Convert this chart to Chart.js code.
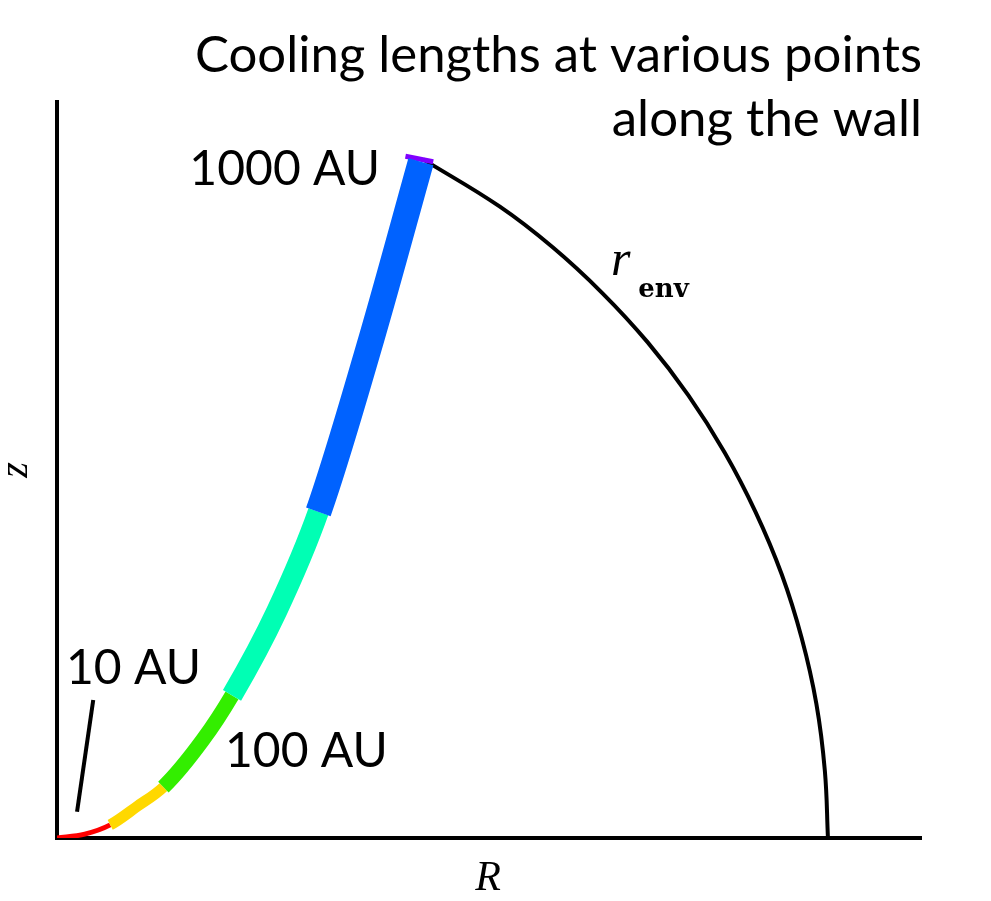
<!DOCTYPE html>
<html lang="en">
<head>
    <meta charset="UTF-8">
    <title>Cooling lengths along the wall</title>
    <script src="https://cdn.jsdelivr.net/npm/chart.js"></script>
    <style>
        body { margin: 0; background: #fff; }
        canvas { display: block; }
    </style>
</head>
<body>
    <canvas id="wallChart" width="991" height="901"></canvas>
    <script type="text/javascript">
        // R and z in units of r_env
        // wall points, one smooth curve
        var wallR = [0, 0.036, 0.069, 0.104, 0.138, 0.189, 0.227, 0.285, 0.339, 0.408, 0.472];
        var wallZ = [0, 0.005, 0.017, 0.041, 0.066, 0.127, 0.185, 0.294, 0.423, 0.648, 0.877];
        // colour band of each piece between two wall points
        var wallBand = [0, 0, 1, 1, 2, 2, 3, 3, 4, 4];
        var bandColors = ['#ff0000', '#ffd800', '#33ee00', '#00ffb4', '#0062ff'];
        var bandWidths = [5, 11, 15, 21, 26];

        // small cap at the top of the wall
        var wallCap = [[0.452, 0.884], [0.488, 0.877]];

        // envelope edge r_env
        var envR = [0.475, 0.574, 0.643, 0.707, 0.766, 0.819, 0.866, 0.906, 0.940, 0.966, 0.985, 0.996, 1.000];
        var envZ = [0.880, 0.819, 0.766, 0.707, 0.643, 0.574, 0.500, 0.423, 0.342, 0.259, 0.174, 0.087, 0.000];

        // pointer for the 10 AU label
        var pointer10 = [[0.047, 0.179], [0.026, 0.034]];

        var titleLines = ["Cooling lengths at various points", "along the wall"];
        var auLabels = ["1000 AU", "10 AU", "100 AU"];

        var rMax = 1.122, zMax = 0.957;

        function toXY(list) {
            return list.map(function (p) { return {x: p[0], y: p[1]}; });
        }

        var wallData = wallR.map(function (r, i) { return {x: r, y: wallZ[i]}; });
        var envData = envR.map(function (r, i) { return {x: r, y: envZ[i]}; });

        // axes spines + text annotations
        var decor = {
            id: 'decor',
            beforeDatasetsDraw: function (chart) {
                var ctx = chart.ctx, a = chart.chartArea;
                ctx.save();
                ctx.strokeStyle = '#000';
                ctx.lineWidth = 4;
                ctx.beginPath();
                ctx.moveTo(a.left, a.top);
                ctx.lineTo(a.left, a.bottom + 2);
                ctx.moveTo(a.left - 2, a.bottom);
                ctx.lineTo(a.right, a.bottom);
                ctx.stroke();
                ctx.restore();
            },
            afterDraw: function (chart) {
                var ctx = chart.ctx;
                var sx = chart.scales.x, sy = chart.scales.y;
                function px(x) { return sx.getPixelForValue(x); }
                function py(y) { return sy.getPixelForValue(y); }
                ctx.save();
                ctx.fillStyle = '#000';
                ctx.textBaseline = 'alphabetic';

                ctx.font = '51px Lato';
                ctx.textAlign = 'right';
                ctx.fillText(titleLines[0], px(rMax), py(0.9935), 727);
                ctx.fillText(titleLines[1], px(rMax), py(0.9105));
                ctx.font = '48px Lato';
                ctx.fillText(auLabels[0], px(0.419), py(0.847));
                ctx.textAlign = 'left';
                ctx.fillText(auLabels[1], px(0.0117), py(0.1997));
                ctx.fillText(auLabels[2], px(0.2179), py(0.0921));

                // r_env
                ctx.font = 'italic 50px "Liberation Serif"';
                ctx.fillText('r', px(0.7185), py(0.7302));
                ctx.font = 'bold 26px "DejaVu Serif"';
                ctx.fillText('env', px(0.754), py(0.7017));

                // R axis label
                ctx.font = 'italic 42px "Liberation Serif"';
                ctx.textAlign = 'center';
                ctx.fillText('R', px(0.559), py(-0.0675));

                // z axis label, rotated
                ctx.save();
                ctx.translate(px(-0.052), py(0.4773));
                ctx.rotate(-Math.PI / 2);
                ctx.textBaseline = 'middle';
                ctx.font = 'italic 40px "Liberation Serif"';
                ctx.fillText('z', 0, 0);
                ctx.restore();

                ctx.restore();
            }
        };

        var wallChart = new Chart(document.getElementById('wallChart'), {
            type: 'scatter',
            data: {
                datasets: [
                    {
                        data: wallData,
                        borderCapStyle: 'butt',
                        cubicInterpolationMode: 'monotone',
                        showLine: true,
                        pointRadius: 0,
                        segment: {
                            borderColor: function (c) { return bandColors[wallBand[c.p0DataIndex]]; },
                            borderWidth: function (c) { return bandWidths[wallBand[c.p0DataIndex]]; }
                        }
                    },
                    {
                        data: toXY(wallCap),
                        borderColor: '#8000ff',
                        borderWidth: 5,
                        showLine: true,
                        pointRadius: 0
                    },
                    {
                        data: envData,
                        borderColor: '#000',
                        borderWidth: 4,
                        tension: 0.4,
                        showLine: true,
                        pointRadius: 0
                    },
                    {
                        data: toXY(pointer10),
                        borderColor: '#000',
                        borderWidth: 4,
                        showLine: true,
                        pointRadius: 0
                    }
                ]
            },
            options: {
                responsive: false,
                animation: false,
                layout: { padding: { left: 57, top: 100, right: 69, bottom: 63 } },
                plugins: {
                    legend: { display: false },
                    tooltip: { enabled: false }
                },
                scales: {
                    x: { type: 'linear', min: 0, max: rMax, display: false },
                    y: { type: 'linear', min: 0, max: zMax, display: false }
                }
            },
            plugins: [decor]
        });
    </script>
</body>
</html>
